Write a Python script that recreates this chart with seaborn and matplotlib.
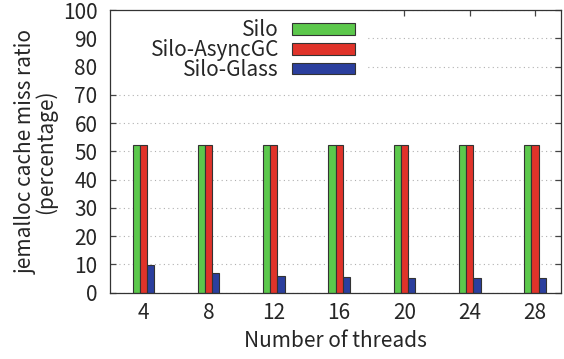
import matplotlib
matplotlib.use('Agg')
import matplotlib.pyplot as plt
import seaborn as sns
import pandas as pd
from matplotlib.patches import Rectangle

# data
threads = [4, 8, 12, 16, 20, 24, 28]
silo = [52.3, 52.3, 52.3, 52.3, 52.3, 52.3, 52.3]
silo_async = [52.3, 52.3, 52.3, 52.3, 52.3, 52.3, 52.3]
silo_glass = [9.7, 7.1, 6.0, 5.5, 5.3, 5.0, 5.0]
series = ['Silo', 'Silo-AsyncGC', 'Silo-Glass']
colors = ['#5cc84c', '#e0332a', '#2b3f9e']

df = pd.DataFrame({
    'threads': threads * 3,
    'ratio': silo + silo_async + silo_glass,
    'system': [s for s in series for _ in threads],
})

sns.set_theme(style='white')
plt.rcParams['font.family'] = ['Noto Sans CJK JP', 'DejaVu Sans']
fs = 15

fig = plt.figure(figsize=(5.64, 3.59), dpi=100)
ax = fig.add_axes([0.195, 0.185, 0.8, 0.787])

sns.barplot(data=df, x='threads', y='ratio', hue='system', hue_order=series,
            palette=colors, width=0.33, edgecolor='#333333', linewidth=0.8,
            saturation=1, ax=ax, zorder=2)

ax.set_xlim(-0.51, 6.4)
ax.set_ylim(0, 100)
ax.set_yticks(range(0, 101, 10))

# dotted horizontal grid
ax.set_axisbelow(True)
ax.yaxis.grid(True, linestyle=(0, (1, 3)), color='#b0b0b0', linewidth=0.8)
ax.xaxis.grid(False)

# opaque legend area
ax.add_patch(Rectangle((0, 0.75), 0.569, 0.25, transform=ax.transAxes,
                       facecolor='white', edgecolor='none', zorder=1.5))

ax.tick_params(direction='in', length=4.5, width=0.9, color='#444444',
               top=True, right=True, bottom=True, left=True, labelsize=fs)
ax.tick_params(axis='y', pad=9)
ax.tick_params(axis='x', pad=7)
for sp in ax.spines.values():
    sp.set_color('#333333')
    sp.set_linewidth(0.9)

ax.set_xlabel('Number of threads', fontsize=fs, labelpad=4)
ax.set_ylabel('jemalloc cache miss ratio\n(percentage)', fontsize=fs,
              linespacing=0.9, labelpad=4)

leg = ax.legend(loc='upper right', bbox_to_anchor=(0.543, 0.968),
                markerfirst=False, frameon=False, fontsize=fs,
                handlelength=3.0, handleheight=0.5, handletextpad=0.65,
                labelspacing=-0.1, borderpad=0, borderaxespad=0)
for t in leg.get_texts():
    t.set_ha('right')
leg.set_zorder(5)

fig.savefig('out.png', dpi=100)
